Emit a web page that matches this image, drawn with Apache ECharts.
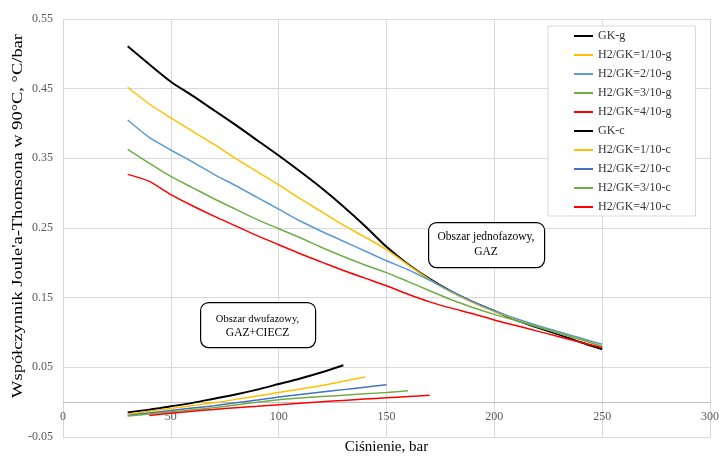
<!DOCTYPE html>
<html>
<head>
<meta charset="utf-8">
<script src="https://cdn.jsdelivr.net/npm/echarts@6/dist/echarts.min.js"></script>
<style>html,body{margin:0;padding:0;background:#fff}#c{width:719px;height:457px}</style>
</head>
<body>
<div id="c"></div>
<script>
// ---- data ----
const pGas = [30,40,50,60,70,80,90,100,110,120,130,140,150,160,170,180,190,200,210,220,230,240,250];
const gkG  = [0.511,0.485,0.460,0.440,0.419,0.398,0.376,0.354,0.331,0.307,0.281,0.253,0.223,0.198,0.177,0.159,0.144,0.131,0.118,0.107,0.097,0.086,0.076];
const h1G  = [0.452,0.428,0.408,0.389,0.370,0.350,0.331,0.312,0.292,0.273,0.254,0.237,0.219,0.197,0.176,0.158,0.143,0.130,0.119,0.109,0.099,0.090,0.080];
const h2G  = [0.405,0.380,0.362,0.345,0.327,0.311,0.294,0.277,0.260,0.245,0.231,0.217,0.203,0.190,0.175,0.159,0.144,0.131,0.120,0.110,0.101,0.092,0.083];
const h3G  = [0.363,0.343,0.324,0.308,0.292,0.277,0.262,0.249,0.236,0.222,0.209,0.197,0.186,0.173,0.160,0.147,0.136,0.126,0.117,0.108,0.099,0.090,0.080];
const h4G  = [0.327,0.317,0.298,0.282,0.267,0.253,0.239,0.226,0.213,0.201,0.189,0.178,0.167,0.155,0.144,0.135,0.127,0.118,0.110,0.102,0.094,0.086,0.078];

const pGkC = [30,40,50,60,70,80,90,100,110,120,130];
const gkC  = [-0.015,-0.011,-0.006,-0.001,0.005,0.011,0.018,0.026,0.034,0.043,0.053];
const pH1C = [30,40,50,60,70,80,90,100,110,120,130,140];
const h1C  = [-0.017,-0.013,-0.009,-0.005,-0.001,0.004,0.009,0.014,0.019,0.024,0.030,0.036];
const pH2C = [30,40,50,60,70,80,90,100,110,120,130,140,150];
const h2C  = [-0.019,-0.0155,-0.012,-0.0085,-0.005,-0.001,0.003,0.0075,0.011,0.0145,0.018,0.0215,0.025];
const pH3C = [30,40,50,60,70,80,90,100,110,120,130,140,150,160];
const h3C  = [-0.020,-0.017,-0.014,-0.011,-0.008,-0.004,0.000,0.0035,0.006,0.008,0.010,0.012,0.014,0.0165];
const pH4C = [40,50,60,70,80,90,100,110,120,130,140,150,160,170];
const h4C  = [-0.019,-0.016,-0.013,-0.0105,-0.008,-0.0058,-0.0036,-0.0015,0.0005,0.0025,0.0045,0.0063,0.008,0.0098];

const names = ['GK-g','H2/GK=1/10-g','H2/GK=2/10-g','H2/GK=3/10-g','H2/GK=4/10-g',
               'GK-c','H2/GK=1/10-c','H2/GK=2/10-c','H2/GK=3/10-c','H2/GK=4/10-c'];
const xTitle = 'Ciśnienie, bar';
const yTitle = "Współczynnik Joule'a-Thomsona w 90°C, °C/bar";
const note1 = ['Obszar jednofazowy,','GAZ'];
const note2 = ['Obszar dwufazowy,','GAZ+CIECZ'];

// ---- build ----
const zip = (xs, ys) => xs.map((x, i) => [x, ys[i]]);
const serieSpec = [
  [pGas, gkG, '#000000', 2],
  [pGas, h1G, '#ffc000', 1.5],
  [pGas, h2G, '#5b9bd5', 1.5],
  [pGas, h3G, '#70ad47', 1.5],
  [pGas, h4G, '#ff0000', 1.5],
  [pGkC, gkC, '#000000', 2],
  [pH1C, h1C, '#ffc000', 1.5],
  [pH2C, h2C, '#4472c4', 1.5],
  [pH3C, h3C, '#70ad47', 1.5],
  [pH4C, h4C, '#ff0000', 1.5]
];
const series = serieSpec.map((s, i) => ({
  name: names[i], type: 'line', data: zip(s[0], s[1]),
  showSymbol: false, smooth: 0.25, color: s[2],
  lineStyle: { width: s[3], color: s[2] }
}));

const serif = '"Liberation Serif", "Times New Roman", serif';
const chart = echarts.init(document.getElementById('c'), null, { renderer: 'canvas' });
chart.setOption({
  animation: false,
  backgroundColor: '#fff',
  textStyle: { fontFamily: serif },
  grid: { left: 63, right: 9, top: 19, bottom: 20, outerBoundsMode: 'none', containLabel: false },
  xAxis: {
    type: 'value', min: 0, max: 300, interval: 50,
    offset: -35,
    name: xTitle, nameLocation: 'middle', nameGap: 38,
    nameTextStyle: { fontFamily: serif, fontSize: 15, color: '#000' },
    axisLine: { onZero: false, lineStyle: { color: '#bfbfbf', width: 1 } },
    axisTick: { show: false },
    axisLabel: { fontFamily: serif, fontSize: 12, color: '#595959', margin: 9 },
    splitLine: { show: true, lineStyle: { color: '#d9d9d9', width: 1 } }
  },
  yAxis: {
    type: 'value', min: -0.05, max: 0.55, interval: 0.05,
    axisLine: { show: false },
    axisTick: { show: false },
    axisLabel: {
      fontFamily: serif, fontSize: 12, color: '#595959', margin: 10,
      formatter: v => { const k = Math.round(v * 100); return Math.abs(k) % 10 === 5 ? v.toFixed(2) : ''; }
    },
    splitLine: { show: true, lineStyle: { color: ['#d9d9d9', 'rgba(0,0,0,0)'], width: 1 } }
  },
  legend: {
    orient: 'vertical', left: 548, top: 26,
    data: names,
    icon: 'rect', itemWidth: 19, itemHeight: 2, itemGap: 5,
    padding: [3, 24, 2, 26],
    backgroundColor: '#fff', borderColor: '#d9d9d9', borderWidth: 1,
    textStyle: { fontFamily: serif, fontSize: 12, color: '#333', lineHeight: 14 }
  },
  series: series,
  graphic: [
    { type: 'rect', left: 428, top: 222, shape: { width: 116, height: 45, r: 8 },
      style: { fill: '#fff', stroke: '#000', lineWidth: 1.2 }, z: 10 },
    { type: 'text', x: 486, y: 237, z: 11,
      style: { text: note1[0], font: '11.5px ' + serif, fill: '#000', textAlign: 'center', textVerticalAlign: 'middle' } },
    { type: 'text', x: 486, y: 252, z: 11,
      style: { text: note1[1], font: '11.5px ' + serif, fill: '#000', textAlign: 'center', textVerticalAlign: 'middle' } },
    { type: 'rect', left: 200, top: 302, shape: { width: 115, height: 45, r: 8 },
      style: { fill: '#fff', stroke: '#000', lineWidth: 1.2 }, z: 10 },
    { type: 'text', x: 257.5, y: 319, z: 11,
      style: { text: note2[0], font: '10.5px ' + serif, fill: '#000', textAlign: 'center', textVerticalAlign: 'middle' } },
    { type: 'text', x: 257.5, y: 333, z: 11,
      style: { text: note2[1], font: '11.5px ' + serif, fill: '#000', textAlign: 'center', textVerticalAlign: 'middle' } },
    { type: 'text', x: 18, y: 216, rotation: Math.PI / 2, scaleX: 1.19, z: 11,
      style: { text: yTitle, font: '15.5px ' + serif, fill: '#000', textAlign: 'center', textVerticalAlign: 'middle' } }
  ]
});
</script>
</body>
</html>
